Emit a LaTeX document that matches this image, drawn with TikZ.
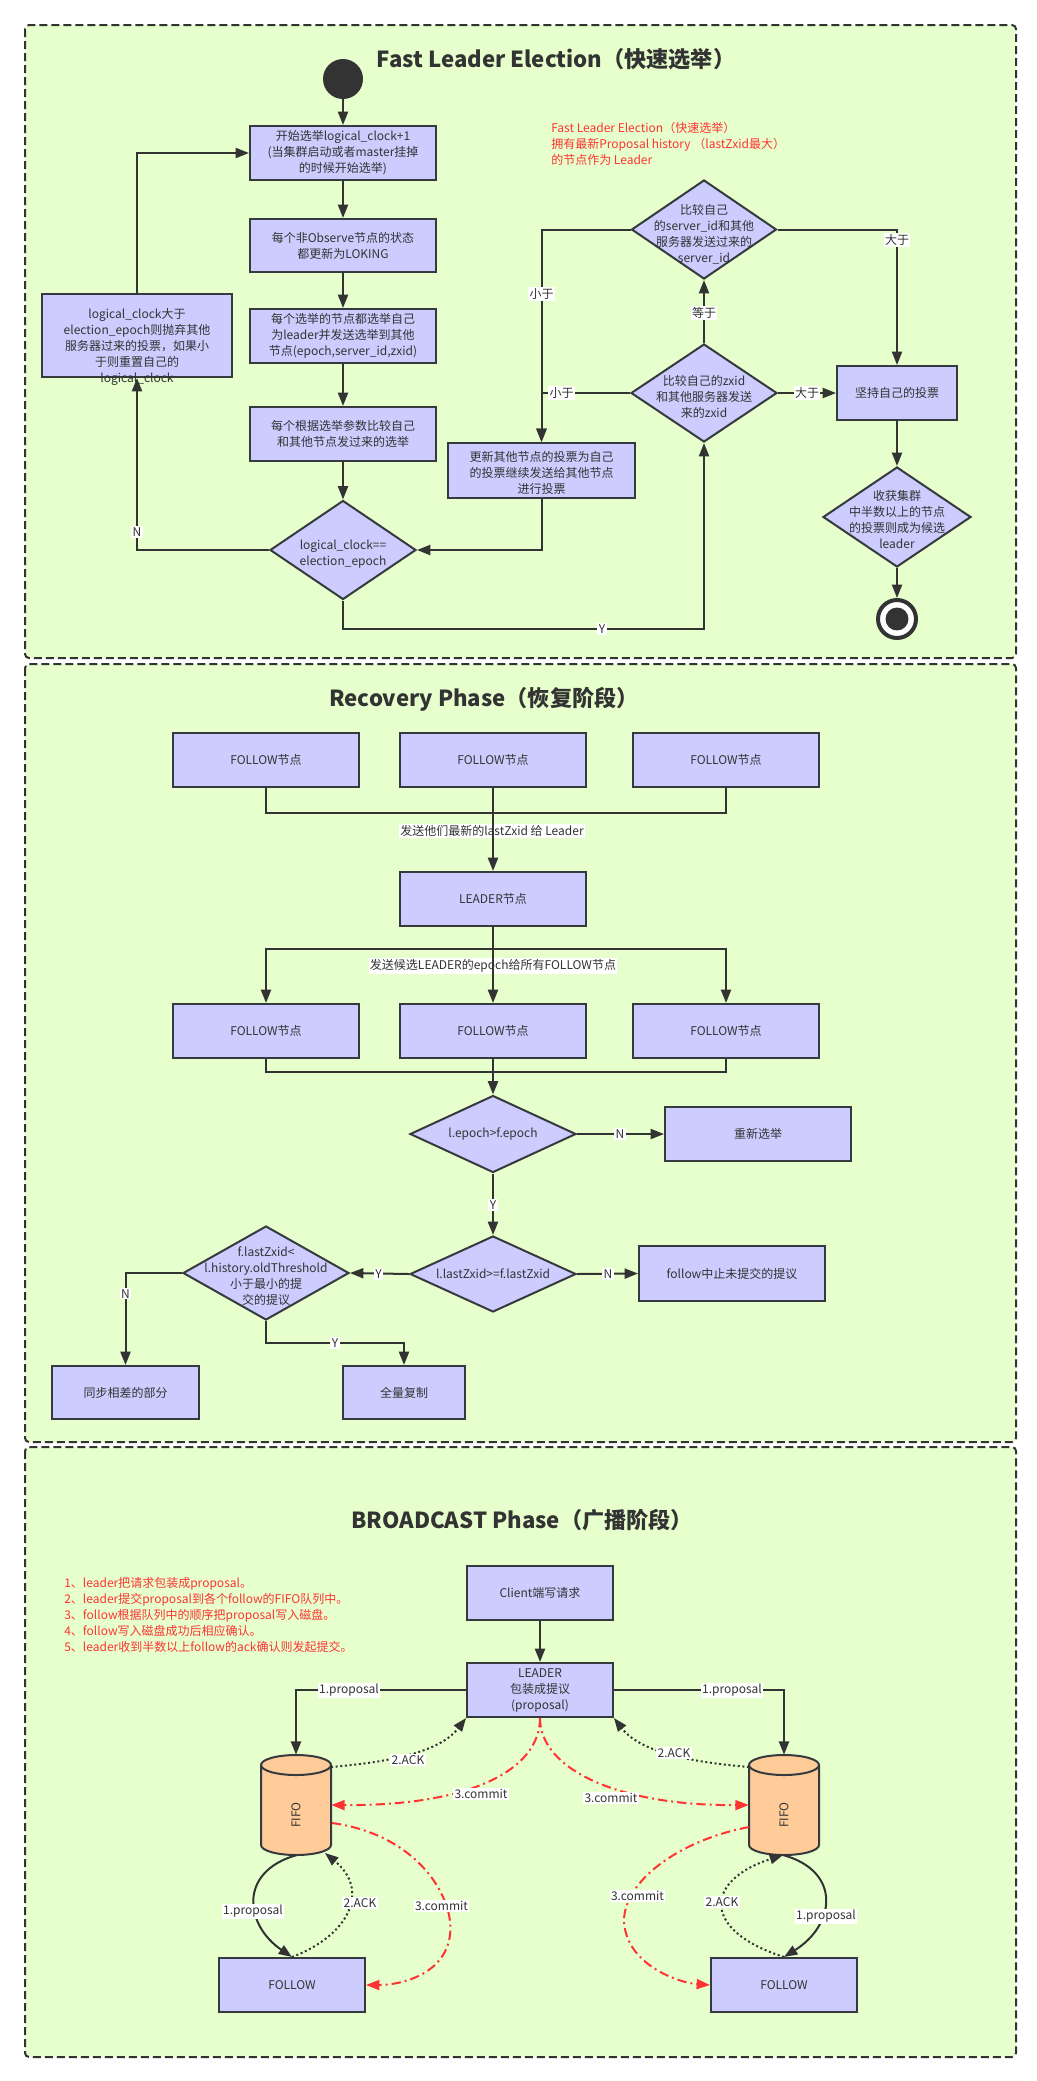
\documentclass[tikz,border=0pt]{standalone}
\usepackage{fontspec}
\setmainfont{Noto Sans CJK SC}
\usetikzlibrary{arrows.meta,shapes.geometric}
\definecolor{bgc}{HTML}{E6FFCC}
\definecolor{boxc}{HTML}{CCCCFF}
\definecolor{strk}{HTML}{36393D}
\definecolor{linec}{HTML}{333333}
\definecolor{cylc}{HTML}{FFCC99}
\definecolor{redc}{HTML}{FF3333}
\newdimen\px \px=0.75pt
\newcommand\ftxt{\fontsize{9}{12}\selectfont}
\newcommand\fttl{\fontsize{16.6}{19}\selectfont\bfseries}
\tikzset{
 sect/.style={draw=linec, fill=bgc, line width=1.5pt, dash pattern=on 6pt off 3pt, rounded corners=3pt},
 box/.style={rectangle, draw=strk, fill=boxc, line width=1.5pt, inner sep=0pt, align=center, text=linec, font=\ftxt},
 dia/.style={diamond, draw=strk, fill=boxc, line width=1.5pt, inner sep=0pt},
 txt/.style={align=center, text=linec, font=\ftxt, inner sep=0pt},
 lbl/.style={fill=white, inner sep=1pt, text=linec, font=\ftxt},
 ttl/.style={text=linec, font=\fttl, inner sep=0pt},
 note/.style={align=left, text=redc, font=\ftxt, inner sep=0pt, anchor=west},
 ln/.style={draw=linec, line width=1.5pt},
 arr/.style={ln, -{Triangle[length=10pt,width=7.5pt]}},
 dotl/.style={arr, dash pattern=on 1.5pt off 2pt},
 redl/.style={draw=redc, line width=1.5pt, dash pattern=on 7pt off 3pt on 1.5pt off 3pt, -{Triangle[length=10pt,width=7.5pt]}},
}
\begin{document}
\begin{tikzpicture}[x=0.75pt,y=-0.75pt]
\useasboundingbox (0,0) rectangle (1036,2081);
\fill[white] (0,0) rectangle (1036,2081);
% sections
\path[sect] (25,25) rectangle (1016,658);
\path[sect] (25,664) rectangle (1016,1442);
\path[sect] (25,1447) rectangle (1016,2057);

%================ Section 1 =================
\node[ttl] (t1) at (556,59) {Fast Leader Election（快速选举）};
\node[note] (n1) at (551,143.8) {Fast Leader Election（快速选举）\\拥有最新Proposal history （lastZxid最大）\\的节点作为 Leader};

\node[circle, fill=linec, minimum size=40\px, inner sep=0pt] (start) at (343,79) {};
\node[box, minimum width=186\px, minimum height=54\px] (b1) at (343,153) {开始选举logical\_clock+1\\(当集群启动或者master挂掉\\的时候开始选举)};
\node[box, minimum width=186\px, minimum height=53\px] (b2) at (343,245.5) {每个非Observe节点的状态\\都更新为LOKING};
\node[box, minimum width=186\px, minimum height=54\px] (b3) at (343,336) {每个选举的节点都选举自己\\为leader并发送选举到其他\\节点(epoch,server\_id,zxid)};
\node[box, minimum width=186\px, minimum height=54\px] (b4) at (343,434) {每个根据选举参数比较自己\\和其他节点发过来的选举};
\node[dia, minimum width=146\px, minimum height=99\px] (d1) at (343,550) {};
\node[txt] (d1t) at (343,553.7) {logical\_clock==\\election\_epoch};
\node[box, minimum width=190\px, minimum height=83\px] (lb) at (137,335.5) {};
\node[txt] (lbt) at (137,347) {logical\_clock大于\\election\_epoch则抛弃其他\\服务器过来的投票，如果小\\于则重置自己的\\logical\_clock};

\node[dia, minimum width=145\px, minimum height=99\px] (d2) at (704,229.5) {};
\node[txt] (d2t) at (704,234) {比较自己\\的server\_id和其他\\服务器发送过来的\\server\_id};
\node[dia, minimum width=146\px, minimum height=98\px] (d3) at (704,393) {};
\node[txt] (d3t) at (704,396.5) {比较自己的zxid\\和其他服务器发送\\来的zxid};
\node[box, minimum width=120\px, minimum height=54\px] (keep) at (897,393) {坚持自己的投票};
\node[dia, minimum width=148\px, minimum height=100\px] (d4) at (897,517) {};
\node[txt] (d4t) at (897,520) {收获集群\\中半数以上的节点\\的投票则成为候选\\leader};
\node[circle, draw=linec, line width=3pt, fill=white, minimum size=38\px, inner sep=0pt] (endc) at (897,619) {};
\fill[linec] (endc.center) circle[radius=8.6pt];
\node[box, minimum width=187\px, minimum height=55\px] (upd) at (541.5,470.5) {};
\node[txt] (updt) at (541.5,473) {更新其他节点的投票为自己\\的投票继续发送给其他节点\\进行投票};

\coordinate (yc) at (343,629);
\draw[arr] (start) -- (b1);
\draw[arr] (b1) -- (b2);
\draw[arr] (b2) -- (b3);
\draw[arr] (b3) -- (b4);
\draw[arr] (b4) -- (d1);
\draw[arr] (d1.west) -| (lb.south);
\draw[arr] (lb.north) |- (b1.west);
\draw[arr] (d1.south) -- (yc) -| (d3.south);
\draw[arr] (upd.south) |- (d1.east);
\draw[arr] (d2.west) -| (upd.north);
\draw[arr] (d3.west) -| (upd.north);
\draw[arr] (d2.east) -| (keep.north);
\draw[arr] (d3.north) -- (d2.south);
\draw[arr] (d3.east) -- (keep.west);
\draw[arr] (keep) -- (d4);
\draw[arr] (d4) -- (endc);
\node[lbl] at (137,532) {N};
\node[lbl] at (602,629) {Y};
\node[lbl] at (541.6,294) {小于};
\node[lbl] at (561.5,393) {小于};
\node[lbl] at (897,240) {大于};
\node[lbl] at (704,313) {等于};
\node[lbl] at (807,393) {大于};

%================ Section 2 =================
\node[ttl] (t2) at (484,699) {Recovery Phase（恢复阶段）};
\node[box, minimum width=186\px, minimum height=54\px] (f1) at (266,760) {FOLLOW节点};
\node[box, minimum width=186\px, minimum height=54\px] (f2) at (493,760) {FOLLOW节点};
\node[box, minimum width=186\px, minimum height=54\px] (f3) at (726,760) {FOLLOW节点};
\node[box, minimum width=186\px, minimum height=54\px] (lead) at (493,899) {LEADER节点};
\node[box, minimum width=186\px, minimum height=54\px] (g1) at (266,1031) {FOLLOW节点};
\node[box, minimum width=186\px, minimum height=54\px] (g2) at (493,1031) {FOLLOW节点};
\node[box, minimum width=186\px, minimum height=54\px] (g3) at (726,1031) {FOLLOW节点};
\node[dia, minimum width=166\px, minimum height=77\px] (e1) at (493,1134) {};
\node[txt] at (e1) {l.epoch>f.epoch};
\node[box, minimum width=186\px, minimum height=54\px] (re) at (758,1134) {重新选举};
\node[dia, minimum width=166\px, minimum height=76\px] (e2) at (493,1274) {};
\node[txt] at (e2) {l.lastZxid>=f.lastZxid};
\node[box, minimum width=186\px, minimum height=55\px] (stop) at (732,1273.5) {follow中止未提交的提议};
\node[dia, minimum width=166\px, minimum height=94\px] (e3) at (266,1273) {};
\node[txt] at (266,1276) {f.lastZxid<\\l.history.oldThreshold\\小于最小的提\\交的提议};
\node[box, minimum width=147\px, minimum height=53\px] (sync) at (125.5,1392.5) {同步相差的部分};
\node[box, minimum width=122\px, minimum height=53\px] (full) at (404,1392.5) {全量复制};

\coordinate (j1) at (493,813);
\coordinate (j2) at (493,949);
\coordinate (j3) at (493,1071.5);
\coordinate (j4) at (266,1343);
\draw[ln] (f1.south) |- (j1);
\draw[ln] (f3.south) |- (j1);
\node[lbl] at (492,831) {发送他们最新的lastZxid 给 Leader};
\draw[arr] (f2.south) -- (lead.north);
\draw[ln] (lead.south) -- (j2);
\draw[arr] (j2) -| (g1.north);
\draw[arr] (j2) -| (g3.north);
\node[lbl] at (493,966) {发送候选LEADER的epoch给所有FOLLOW节点};
\draw[arr] (lead.south) -- (g2.north);
\draw[ln] (g1.south) |- (j3);
\draw[ln] (g3.south) |- (j3);
\draw[arr] (g2.south) -- (e1.north);
\draw[arr] (e1.east) -- (re.west);
\draw[arr] (e1.south) -- (e2.north);
\draw[arr] (e2.east) -- (stop.west);
\draw[arr] (e2.west) -- (e3.east);
\draw[arr] (e3.west) -| (sync.north);
\draw[arr] (e3.south) -- (j4) -| (full.north);
\node[lbl] at (620,1134) {N};
\node[lbl] at (493,1205) {Y};
\node[lbl] at (608,1274) {N};
\node[lbl] at (378.5,1274) {Y};
\node[lbl] at (125.5,1293.6) {N};
\node[lbl] at (335,1343) {Y};

%================ Section 3 =================
\node[ttl] (t3) at (522,1520) {BROADCAST Phase（广播阶段）};
\node[note] (n3) at (64,1614.6) {1、leader把请求包装成proposal。\\2、leader提交proposal到各个follow的FIFO队列中。\\3、follow根据队列中的顺序把proposal写入磁盘。\\4、follow写入磁盘成功后相应确认。\\5、leader收到半数以上follow的ack确认则发起提交。};
\node[box, minimum width=146\px, minimum height=54\px] (client) at (540,1593) {Client端写请求};
\node[box, minimum width=146\px, minimum height=54\px] (lead3) at (540,1690) {LEADER\\包装成提议\\(proposal)};
\node[box, minimum width=146\px, minimum height=54\px] (folL) at (292,1985) {FOLLOW};
\node[box, minimum width=146\px, minimum height=54\px] (folR) at (784,1985) {FOLLOW};
% cylinders
\node[minimum width=70\px, minimum height=100\px, inner sep=0pt] (cL) at (296,1805) {};
\node[minimum width=70\px, minimum height=100\px, inner sep=0pt] (cR) at (784,1805) {};
\foreach \cx in {296,784}{
 \draw[draw=strk, fill=cylc, line width=1.5pt] (\cx-35,1765) -- (\cx-35,1845) arc[start angle=180, end angle=360, x radius=26.25pt, y radius=7.5pt] -- (\cx+35,1765) arc[start angle=0, end angle=180, x radius=26.25pt, y radius=7.5pt] -- cycle;
 \draw[draw=strk, line width=1.5pt] (\cx-35,1765) arc[start angle=180, end angle=360, x radius=26.25pt, y radius=7.5pt];
 \node[txt, rotate=90] at (\cx,1815) {FIFO};
}
\coordinate (aLt) at (331,1767);
\coordinate (aRt) at (749,1767);
\coordinate (aLb) at (325,1853);
\coordinate (aRb) at (783,1855);
\coordinate (cLr) at (332,1823);
\coordinate (cRl) at (749,1827);

\draw[arr] (client.south) -- (lead3.north);
\draw[arr] (lead3.west) -| (cL.north);
\draw[arr] (lead3.east) -| (cR.north);
\draw[dotl] (aLt) .. controls (390,1762) and (440,1752) .. (lead3.south west);
\draw[dotl] (aRt) .. controls (690,1762) and (640,1752) .. (lead3.south east);
\draw[redl] (lead3.south) .. controls (540,1770) and (470,1806) .. (cL.east);
\draw[redl] (lead3.south) .. controls (540,1770) and (620,1806) .. (cR.west);
\draw[arr] (cL.south) .. controls (238,1872) and (245,1925) .. (folL.north);
\draw[dotl] (folL.north) .. controls (350,1935) and (370,1890) .. (aLb);
\draw[redl] (cLr) .. controls (420,1835) and (455,1900) .. (450,1935) .. controls (445,1975) and (400,1985) .. (folL.east);
\draw[arr] (cR.south) .. controls (842,1872) and (835,1925) .. (folR.north);
\draw[dotl] (folR.north) .. controls (700,1930) and (705,1880) .. (aRb);
\draw[redl] (cRl) .. controls (680,1840) and (625,1880) .. (624,1920) .. controls (625,1965) and (680,1983) .. (folR.west);
\node[lbl] at (349,1690) {1.proposal};
\node[lbl] at (732,1690) {1.proposal};
\node[lbl] at (408,1760) {2.ACK};
\node[lbl] at (674,1753) {2.ACK};
\node[lbl] at (481,1794) {3.commit};
\node[lbl] at (611,1798) {3.commit};
\node[lbl] at (253,1911) {1.proposal};
\node[lbl] at (360,1903) {2.ACK};
\node[lbl] at (441.5,1906) {3.commit};
\node[lbl] at (826,1916) {1.proposal};
\node[lbl] at (722,1902) {2.ACK};
\node[lbl] at (637.5,1896) {3.commit};
\end{tikzpicture}
\end{document}
